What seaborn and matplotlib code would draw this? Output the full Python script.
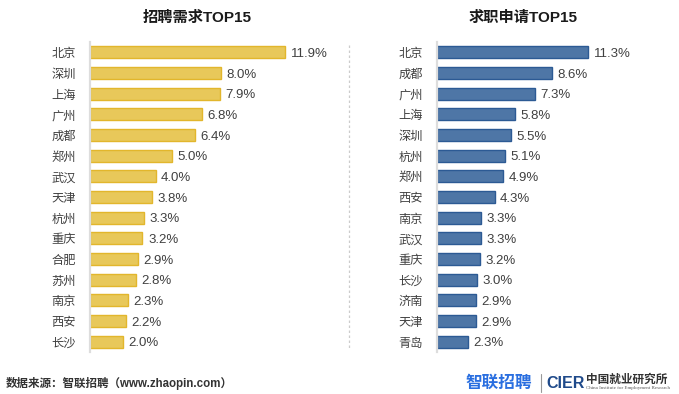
import matplotlib
matplotlib.use("Agg")
import matplotlib.pyplot as plt
from matplotlib.lines import Line2D
import seaborn as sns
import pandas as pd

# === DATA ===
demand_cities = ["北京", "深圳", "上海", "广州", "成都", "郑州", "武汉", "天津",
                 "杭州", "重庆", "合肥", "苏州", "南京", "西安", "长沙"]
demand_share = [11.9, 8.0, 7.9, 6.8, 6.4, 5.0, 4.0, 3.8, 3.3, 3.2, 2.9, 2.8, 2.3, 2.2, 2.0]

apply_cities = ["北京", "成都", "广州", "上海", "深圳", "杭州", "郑州", "西安",
                "南京", "武汉", "重庆", "长沙", "济南", "天津", "青岛"]
apply_share = [11.3, 8.6, 7.3, 5.8, 5.5, 5.1, 4.9, 4.3, 3.3, 3.3, 3.2, 3.0, 2.9, 2.9, 2.3]

titles = ["招聘需求TOP15", "求职申请TOP15"]
source_text = "数据来源：智联招聘（www.zhaopin.com）"

# === STYLE ===
sns.set_style("white")
# Latin glyphs in an Arial-like face, CJK falls through to Noto
plt.rcParams['font.family'] = ['Liberation Sans', 'Noto Sans CJK SC', 'DejaVu Sans']
CJK = ['Noto Sans CJK SC', 'DejaVu Sans']

W, H = 679, 394
fig = plt.figure(figsize=(W / 100, H / 100), dpi=100)

TEXT = "#404040"


def px_axes(x0, x1, y_top, y_bot):
    return fig.add_axes([x0 / W, 1 - y_bot / H, (x1 - x0) / W, (y_bot - y_top) / H])


def draw_panel(ax, cities, values, fill, edge, px_per_unit, width_px, title, title_x):
    df = pd.DataFrame({"city": cities, "share": values})
    sns.barplot(data=df, x="share", y="city", orient="h", ax=ax, color=fill,
                edgecolor=edge, linewidth=1.0, width=0.58, saturation=1)
    ax.set_xlim(0, width_px / px_per_unit)
    ax.set_ylim(14.5, -0.5)
    ax.set_xlabel("")
    ax.set_ylabel("")
    ax.set_xticks([])
    for s in ["top", "right", "bottom"]:
        ax.spines[s].set_visible(False)
    ax.spines["left"].set_color("#DDDDDD")
    ax.spines["left"].set_linewidth(1.6)
    ax.tick_params(axis="y", length=0, pad=10, labelsize=8.8, labelcolor=TEXT)
    for lab in ax.get_yticklabels():
        lab.set_fontfamily(CJK)
    texts = ax.bar_label(ax.containers[0], labels=[f"{v:.1f}%" for v in values],
                         padding=4, fontsize=9.5, color=TEXT)
    for t in texts:
        t.set_va("center_baseline")
    fig.text(title_x / W, 1 - 18 / H, title, ha="center", va="center",
             fontsize=11, fontweight="bold", color="#1A1A1A")


ax1 = px_axes(90, 330, 42, 352)
draw_panel(ax1, demand_cities, demand_share, "#E8C85A", "#E2B62C", 16.4, 240,
           titles[0], 197)

ax2 = px_axes(437, 672, 42, 352)
draw_panel(ax2, apply_cities, apply_share, "#4E76A6", "#2C5A94", 13.4, 235,
           titles[1], 523)

# dotted separator between the panels
fig.add_artist(Line2D([349 / W, 349 / W], [1 - 45 / H, 1 - 350 / H],
                      color="#CCCCCC", linewidth=0.9, linestyle=(0, (2, 2))))

# === FOOTER ===
fig.text(6 / W, 1 - 383 / H, source_text, ha="left", va="center",
         fontsize=8.3, fontweight="bold", color="#333333")

fig.text(465 / W, 1 - 383 / H, "智联招聘", ha="left", va="center",
         fontsize=12, fontweight="bold", color="#2A6FE0", family=CJK)
fig.add_artist(Line2D([541 / W, 541 / W], [1 - 374 / H, 1 - 392 / H],
                      color="#999999", linewidth=0.8))
fig.text(546 / W, 1 - 383 / H, "CIER", ha="left", va="center",
         fontsize=11.5, fontweight="bold", color="#1F4A8A")
fig.text(586 / W, 1 - 379 / H, "中国就业研究所", ha="left", va="center",
         fontsize=8.4, fontweight="bold", color="#333333", family=CJK)
fig.text(586 / W, 1 - 388.5 / H, "China Institute for Employment Research",
         ha="left", va="center", fontsize=3.6, color="#555555",
         family=["Liberation Serif", "DejaVu Serif"])

fig.savefig("out.png", dpi=100)
